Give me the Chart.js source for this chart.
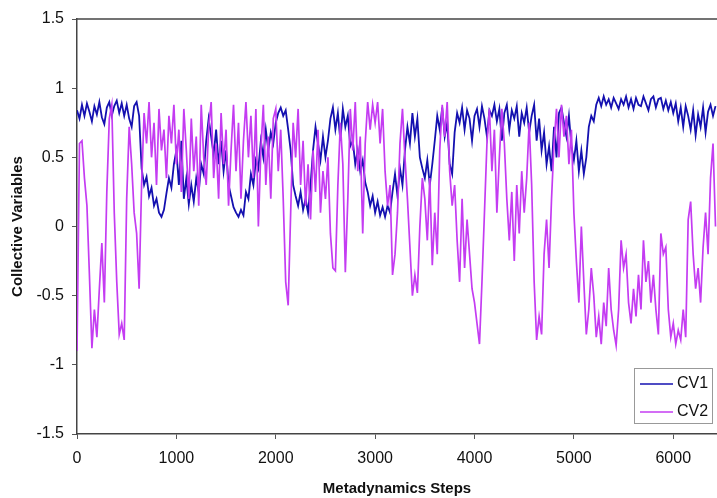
<!DOCTYPE html>
<html>
<head>
<meta charset="utf-8">
<script src="https://cdn.jsdelivr.net/npm/chart.js@4.4.0/dist/chart.umd.min.js"></script>
<style>
  html, body { margin: 0; padding: 0; background: #fff; }
  #wrap { width: 717px; height: 498px; }
</style>
</head>
<body>
<div id="wrap"><canvas id="cvChart"></canvas></div>
<script>
// metadynamics steps, one sample every 25 steps (0 .. 6425)
const stepSize = 25;
const steps = Array.from({ length: 258 }, (_, i) => i * stepSize);

// tick labels on the axes
const xTicks = [0, 1000, 2000, 3000, 4000, 5000, 6000];
const yTicks = [-1.5, -1, -0.5, 0, 0.5, 1, 1.5];

// CV1 values
const cv1 = [
  0.84,0.78,0.88,0.80,0.89,0.83,0.76,0.87,0.81,0.90,0.79,0.74,0.86,0.90,0.80,0.87,0.91,0.82,0.89,0.80,
  0.88,0.78,0.72,0.87,0.90,0.80,0.42,0.30,0.36,0.22,0.28,0.15,0.20,0.10,0.07,0.12,0.24,0.35,0.28,0.45,
  0.55,0.30,0.62,0.20,0.35,0.16,0.30,0.18,0.35,0.25,0.45,0.38,0.62,0.78,0.65,0.52,0.70,0.45,0.62,0.40,
  0.55,0.30,0.22,0.14,0.10,0.07,0.12,0.08,0.25,0.20,0.38,0.30,0.48,0.42,0.62,0.50,0.70,0.55,0.68,0.60,
  0.75,0.82,0.86,0.80,0.84,0.70,0.55,0.30,0.22,0.15,0.25,0.12,0.20,0.10,0.30,0.55,0.72,0.60,0.48,0.65,
  0.50,0.62,0.78,0.86,0.70,0.82,0.62,0.85,0.72,0.80,0.58,0.62,0.45,0.55,0.40,0.48,0.32,0.25,0.15,0.22,
  0.10,0.18,0.08,0.14,0.07,0.15,0.10,0.25,0.38,0.22,0.42,0.30,0.55,0.72,0.60,0.82,0.65,0.78,0.50,0.42,
  0.35,0.48,0.30,0.45,0.62,0.80,0.70,0.86,0.65,0.75,0.45,0.38,0.68,0.82,0.75,0.86,0.70,0.84,0.78,0.62,
  0.80,0.85,0.72,0.87,0.78,0.65,0.84,0.80,0.88,0.76,0.85,0.62,0.82,0.88,0.70,0.84,0.78,0.87,0.65,0.82,
  0.75,0.86,0.68,0.80,0.88,0.62,0.78,0.55,0.68,0.45,0.58,0.40,0.72,0.50,0.82,0.86,0.75,0.65,0.80,0.58,
  0.48,0.62,0.40,0.55,0.38,0.50,0.72,0.80,0.76,0.88,0.93,0.87,0.94,0.88,0.92,0.86,0.93,0.89,0.85,0.92,
  0.88,0.94,0.86,0.92,0.85,0.93,0.88,0.87,0.94,0.89,0.84,0.92,0.94,0.86,0.92,0.93,0.85,0.91,0.84,0.90,
  0.82,0.89,0.76,0.86,0.72,0.87,0.80,0.70,0.84,0.66,0.81,0.72,0.86,0.68,0.83,0.88,0.80,0.87
];

// CV2 values
const cv2 = [
  -0.90,0.60,0.62,0.35,0.15,-0.35,-0.88,-0.60,-0.80,-0.45,-0.12,-0.55,0.25,0.78,0.88,0.10,-0.40,-0.78,-0.70,-0.82,
  0.20,0.72,0.45,0.10,-0.05,-0.45,0.30,0.82,0.60,0.90,0.50,0.75,0.30,0.85,0.55,0.70,0.35,0.80,0.60,0.88,
  0.45,0.70,0.25,0.85,0.55,0.20,0.78,0.40,0.65,0.15,0.88,0.50,0.30,0.72,0.90,0.35,0.60,0.20,0.82,0.45,
  0.70,0.15,0.55,0.88,0.40,0.75,0.20,0.62,0.90,0.50,0.80,0.35,0.85,0.00,0.55,0.88,0.30,0.65,0.20,0.78,
  0.85,0.40,0.70,0.20,-0.40,-0.57,0.10,0.75,0.50,0.85,0.30,0.62,0.15,0.45,0.05,0.55,0.25,0.70,0.10,0.40,
  0.20,0.50,-0.05,-0.30,-0.32,0.30,0.75,0.45,-0.33,0.20,0.85,0.55,0.90,0.40,0.65,-0.05,0.60,0.90,0.70,0.88,
  0.75,0.90,0.60,0.85,0.40,0.15,0.30,-0.35,-0.20,0.10,0.60,0.85,0.50,0.20,-0.15,-0.50,-0.35,-0.48,0.00,0.35,
  0.20,-0.10,0.35,-0.28,0.10,-0.20,0.55,0.88,0.65,0.90,0.40,0.15,0.30,-0.10,-0.40,0.20,-0.30,0.05,-0.20,-0.45,
  -0.55,-0.70,-0.85,-0.40,0.10,0.60,0.85,0.40,0.70,0.10,0.50,0.85,0.60,0.20,-0.10,0.25,-0.25,0.30,-0.05,0.40,
  0.10,0.35,0.75,0.30,-0.40,-0.82,-0.65,-0.78,-0.20,0.05,-0.30,0.20,0.60,0.85,0.50,0.88,0.65,0.80,0.45,0.70,
  0.10,-0.25,-0.55,0.00,-0.40,-0.78,-0.60,-0.30,-0.50,-0.80,-0.65,-0.85,-0.55,-0.72,-0.30,-0.60,-0.75,-0.86,-0.60,-0.10,
  -0.30,-0.20,-0.55,-0.70,-0.45,-0.65,-0.35,-0.60,-0.10,-0.40,-0.25,-0.55,-0.35,-0.60,-0.78,-0.05,-0.20,-0.15,-0.60,-0.80,
  -0.70,-0.85,-0.75,-0.82,-0.60,-0.80,0.05,0.18,-0.20,-0.45,-0.30,-0.55,-0.15,0.10,-0.20,0.35,0.60,0.00
];

const seriesNames = ['CV1', 'CV2'];
const seriesColors = ['#1410b0', '#c43cf2'];
const fontFamily = '"Liberation Sans", Arial, sans-serif';

// top frame line + legend box inside the plot (bottom right)
const framePlugin = {
  id: 'frame',
  afterDraw(chart) {
    const { ctx, chartArea: a } = chart;
    ctx.save();
    ctx.strokeStyle = '#444';
    ctx.lineWidth = 1.5;
    ctx.beginPath();
    ctx.moveTo(a.left, a.top);
    ctx.lineTo(a.right, a.top);
    ctx.stroke();

    // legend
    const bw = 78, bh = 55;
    const bx = a.right - 5 - bw, by = a.bottom - 11 - bh;
    ctx.fillStyle = '#fff';
    ctx.fillRect(bx, by, bw, bh);
    ctx.strokeStyle = '#999';
    ctx.lineWidth = 1;
    ctx.strokeRect(bx + 0.5, by + 0.5, bw, bh);
    ctx.font = '16px ' + fontFamily;
    ctx.textBaseline = 'middle';
    chart.data.datasets.forEach((ds, i) => {
      const y = by + 16 + i * 28;
      ctx.strokeStyle = ds.borderColor;
      ctx.lineWidth = 1.5;
      ctx.beginPath();
      ctx.moveTo(bx + 6, y);
      ctx.lineTo(bx + 39, y);
      ctx.stroke();
      ctx.fillStyle = '#111';
      ctx.fillText(ds.label, bx + 43, y);
    });
    ctx.restore();
  }
};

new Chart(document.getElementById('cvChart'), {
  type: 'line',
  data: {
    labels: steps,
    datasets: [
      { label: seriesNames[0], data: cv1, borderColor: seriesColors[0], borderWidth: 1.8, order: 1 },
      { label: seriesNames[1], data: cv2, borderColor: seriesColors[1], borderWidth: 1.7, order: 0 }
    ]
  },
  options: {
    responsive: true,
    maintainAspectRatio: false,
    animation: false,
    layout: { padding: { top: 19, right: 0, left: 0, bottom: 0 } },
    elements: { point: { radius: 0 }, line: { tension: 0 } },
    plugins: { legend: { display: false }, tooltip: { enabled: false } },
    scales: {
      x: {
        type: 'linear',
        min: 0,
        max: 6440,
        afterBuildTicks: s => { s.ticks = xTicks.map(v => ({ value: v })); },
        ticks: { color: '#111', padding: 10, maxRotation: 0, autoSkip: false,
                 callback: v => String(v),
                 font: { family: fontFamily, size: 16 } },
        grid: { drawOnChartArea: false, drawTicks: true, tickLength: 5, color: '#555' },
        border: { display: true, color: '#444', width: 1.5 },
        title: { display: true, text: 'Metadynamics Steps', color: '#111', padding: { top: 2, bottom: 0 },
                 font: { family: fontFamily, size: 15, weight: 'bold' } },
        afterFit: s => { s.height = 64; }
      },
      y: {
        min: -1.5,
        max: 1.5,
        afterBuildTicks: s => { s.ticks = yTicks.map(v => ({ value: v })); },
        ticks: { color: '#111', padding: 8, callback: v => String(v),
                 font: { family: fontFamily, size: 16 } },
        grid: { drawOnChartArea: false, drawTicks: true, tickLength: 5, color: '#555' },
        border: { display: true, color: '#444', width: 1.5 },
        title: { display: true, text: 'Collective Variables', color: '#111', padding: { top: 9, bottom: 0 },
                 font: { family: fontFamily, size: 15, weight: 'bold' } },
        afterFit: s => { s.width = 77; }
      }
    }
  },
  plugins: [framePlugin]
});
</script>
</body>
</html>
